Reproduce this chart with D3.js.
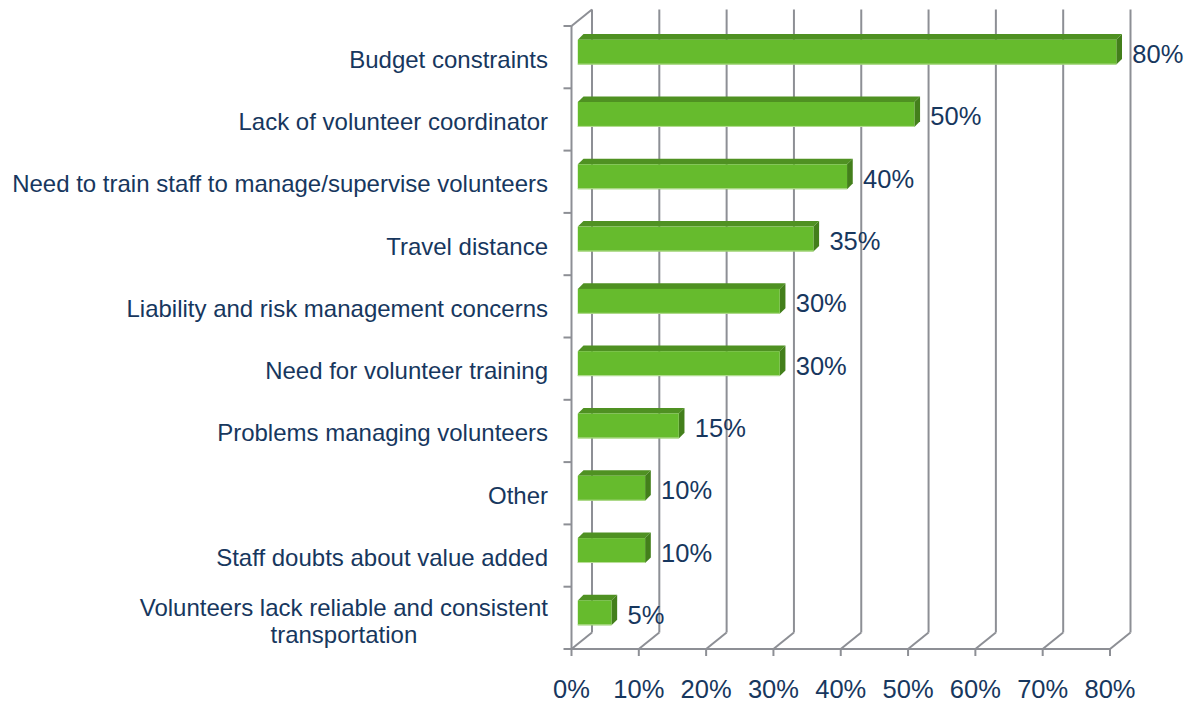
<!DOCTYPE html>
<html>
<head>
<meta charset="utf-8">
<script src="https://cdn.jsdelivr.net/npm/d3@7"></script>
<style>
  html, body { margin: 0; padding: 0; background: #ffffff; }
  svg { display: block; }
  text { font-family: "Liberation Sans", Arial, sans-serif; fill: #17375E; }
</style>
</head>
<body>
<svg id="chart" width="1191" height="704"></svg>
<script>
// ---- data ----
const categories = [
  "Budget constraints",
  "Lack of volunteer coordinator",
  "Need to train staff to manage/supervise volunteers",
  "Travel distance",
  "Liability and risk management concerns",
  "Need for volunteer training",
  "Problems managing volunteers",
  "Other",
  "Staff doubts about value added",
  "Volunteers lack reliable and consistent\ntransportation"
];
const values = [0.80, 0.50, 0.40, 0.35, 0.30, 0.30, 0.15, 0.10, 0.10, 0.05];
const valueLabels = ["80%", "50%", "40%", "35%", "30%", "30%", "15%", "10%", "10%", "5%"];
const xTicks = [0, 0.1, 0.2, 0.3, 0.4, 0.5, 0.6, 0.7, 0.8];
const xTickLabels = ["0%", "10%", "20%", "30%", "40%", "50%", "60%", "70%", "80%"];

// ---- layout ----
const svg = d3.select("#chart");
const frontLeft = 571.5, frontRight = 1110, frontTop = 26, frontBottom = 649;
const depthX = 20.5, depthY = -16.5;       // wall depth offset
const barOffX = 6.3, barOffY = -5;          // bar front plane offset
const barDX = 5.7, barDY = -5.6;            // bar depth
const gridColor = "#8D8F95";

const x = d3.scaleLinear().domain([0, 0.8]).range([frontLeft, frontRight]);
const y = d3.scaleBand().domain(categories).range([frontTop, frontBottom]).paddingInner(0).paddingOuter(0);
const barH = y.bandwidth() * 0.40;

const g = svg.append("g");

// back wall gridlines
g.selectAll("line.grid").data(xTicks).join("line")
  .attr("class", "grid")
  .attr("x1", d => x(d) + depthX).attr("x2", d => x(d) + depthX)
  .attr("y1", frontTop + depthY).attr("y2", frontBottom + depthY)
  .attr("stroke", gridColor).attr("stroke-width", 2);

// floor diagonals
g.selectAll("line.floor").data(xTicks).join("line")
  .attr("class", "floor")
  .attr("x1", d => x(d) + depthX).attr("y1", frontBottom + depthY)
  .attr("x2", d => x(d)).attr("y2", frontBottom)
  .attr("stroke", gridColor).attr("stroke-width", 2);

// left wall: front vertical + top diagonal
g.append("line")
  .attr("x1", frontLeft).attr("x2", frontLeft)
  .attr("y1", frontTop).attr("y2", frontBottom)
  .attr("stroke", gridColor).attr("stroke-width", 2);
g.append("line")
  .attr("x1", frontLeft).attr("y1", frontTop)
  .attr("x2", frontLeft + depthX).attr("y2", frontTop + depthY)
  .attr("stroke", gridColor).attr("stroke-width", 2);

// left wall ticks (band boundaries)
const boundaries = categories.map(c => y(c)).concat([frontBottom]);
g.selectAll("line.ytick").data(boundaries).join("line")
  .attr("class", "ytick")
  .attr("x1", frontLeft - 8).attr("x2", frontLeft)
  .attr("y1", d => d).attr("y2", d => d)
  .attr("stroke", gridColor).attr("stroke-width", 2);

// front bottom axis
g.append("line")
  .attr("x1", frontLeft).attr("x2", x(0.8))
  .attr("y1", frontBottom).attr("y2", frontBottom)
  .attr("stroke", gridColor).attr("stroke-width", 2);
g.selectAll("line.xtick").data(xTicks).join("line")
  .attr("class", "xtick")
  .attr("x1", d => x(d)).attr("x2", d => x(d))
  .attr("y1", frontBottom).attr("y2", frontBottom + 7)
  .attr("stroke", gridColor).attr("stroke-width", 2);

// x tick labels
g.selectAll("text.xlab").data(xTicks).join("text")
  .attr("class", "xlab")
  .attr("x", d => x(d))
  .attr("y", 698)
  .attr("text-anchor", "middle")
  .attr("font-size", 25.5)
  .text((d, i) => xTickLabels[i]);

// bars
const bars = g.selectAll("g.bar").data(categories.map((c, i) => ({c, v: values[i], lab: valueLabels[i]})))
  .join("g").attr("class", "bar");

bars.each(function(d) {
  const sel = d3.select(this);
  const cy = y(d.c) + y.bandwidth() / 2 + barOffY;
  const x0 = x(0) + barOffX, x1 = x(d.v) + barOffX;
  const y0 = cy - barH / 2, y1 = cy + barH / 2;
  // top face
  sel.append("polygon")
    .attr("points", [[x0, y0], [x0 + barDX, y0 + barDY], [x1 + barDX, y0 + barDY], [x1, y0]].map(p => p.join(",")).join(" "))
    .attr("fill", "#4F9122");
  // side face
  sel.append("polygon")
    .attr("points", [[x1, y0], [x1 + barDX, y0 + barDY], [x1 + barDX, y1 + barDY], [x1, y1]].map(p => p.join(",")).join(" "))
    .attr("fill", "#437F1B");
  // front face
  sel.append("rect")
    .attr("x", x0).attr("y", y0)
    .attr("width", x1 - x0).attr("height", y1 - y0)
    .attr("fill", "#66BB2D");
  // light bottom edge
  sel.append("line")
    .attr("x1", x0).attr("x2", x1)
    .attr("y1", y1 - 0.5).attr("y2", y1 - 0.5)
    .attr("stroke", "#B9DE98").attr("stroke-width", 1);
  // value label
  sel.append("text")
    .attr("x", x1 + 16)
    .attr("y", cy + 11)
    .attr("font-size", 25.5)
    .text(d.lab);
});

// category labels
const labelRight = 548;
categories.forEach(c => {
  const cy = y(c) + y.bandwidth() / 2;
  const lines = c.split("\n");
  if (lines.length === 1) {
    g.append("text")
      .attr("x", labelRight).attr("y", cy + 10.5)
      .attr("text-anchor", "end")
      .attr("font-size", 24)
      .text(lines[0]);
  } else {
    const t1 = g.append("text")
      .attr("x", labelRight).attr("y", cy - 2)
      .attr("text-anchor", "end")
      .attr("font-size", 24)
      .text(lines[0]);
    const w = t1.node().getComputedTextLength();
    g.append("text")
      .attr("x", labelRight - w / 2).attr("y", cy + 25)
      .attr("text-anchor", "middle")
      .attr("font-size", 24)
      .text(lines[1]);
  }
});
</script>
</body>
</html>
